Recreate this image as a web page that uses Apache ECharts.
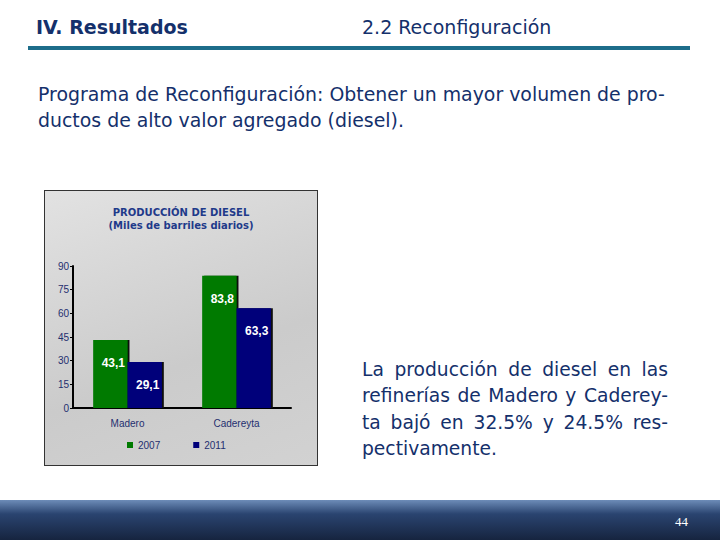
<!DOCTYPE html>
<html>
<head>
<meta charset="utf-8">
<script src="https://cdn.jsdelivr.net/npm/echarts@6/dist/echarts.min.js"></script>
<style>
  body { margin: 0; width: 720px; height: 540px; position: relative; background: #fff; overflow: hidden;
         font-family: "DejaVu Sans", sans-serif; color: #14306b; }
  .abs { position: absolute; white-space: nowrap; }
  #rule { position: absolute; left: 28px; top: 46px; width: 662px; height: 4px; background: #1d6d8a; }
  #footer { position: absolute; left: 0; top: 500px; width: 720px; height: 40px;
            background: linear-gradient(#6d8cb8, #2a4470 35%, #16243f); }
  #chart1 { position: absolute; left: 44px; top: 190px; width: 272px; height: 274px;
            border: 1px solid #333; background: linear-gradient(160deg, #e2e2e2, #cbcbcb 60%, #d2d2d2); }
  .just { width: 306px; text-align: justify; text-align-last: justify; }
</style>
</head>
<body>
<div class="abs" style="left:36px; top:16px; font-size:19px; font-weight:bold;">IV. Resultados</div>
<div class="abs" style="left:362px; top:16px; font-size:19px;">2.2 Reconfiguración</div>
<div id="rule"></div>
<div class="abs" style="left:38px; top:81px; font-size:18.9px; line-height:26px;">Programa de Reconfiguración: Obtener un mayor volumen de pro-<br>ductos de alto valor agregado (diesel).</div>

<div class="abs" style="left:362px; top:357px; font-size:18.7px; line-height:26.3px;">
  <div class="just">La producción de diesel en las</div>
  <div class="just">refinerías de Madero y Caderey-</div>
  <div class="just">ta bajó en 32.5% y 24.5% res-</div>
  <div>pectivamente.</div>
</div>

<div id="chart1"></div>
<div id="footer"></div>
<div class="abs" style="left:675px; top:514px; font-size:13px; color:#fff; font-family:'Liberation Serif', serif;">44</div>

<script>
// datos
const refinerias = ['Madero', 'Cadereyta'];
const anios = ['2007', '2011'];
const valores2007 = [43.1, 83.8];
const valores2011 = [29.1, 63.3];
const ticksY = { min: 0, max: 90, interval: 15 };

const coma = p => String(p.value).replace('.', ',');

const serie = (nombre, datos, color) => ({
    name: nombre,
    type: 'bar',
    data: datos,
    barGap: '0%',
    barCategoryGap: '37%',
    itemStyle: {
        color: color,
        shadowColor: '#111',
        shadowOffsetX: 2,
        shadowBlur: 0
    },
    label: {
        show: true,
        position: 'insideTop',
        distance: 17,
        offset: [3, 0],
        color: '#fff',
        fontWeight: 'bold',
        fontSize: 12,
        fontFamily: 'Liberation Sans, Arial, sans-serif',
        formatter: coma
    }
});

const initCharts = () => {
    const chart1 = echarts.init(document.getElementById('chart1'), null, { renderer: 'svg' });
    const txt = { color: '#1f2f6f', fontSize: 10, fontFamily: 'Liberation Sans, Arial, sans-serif' };
    chart1.setOption({
        animation: false,
        title: {
            text: 'PRODUCCIÓN DE DIESEL\n(Miles de barriles diarios)',
            left: 'center',
            top: 10,
            textStyle: { color: '#1f3a8a', fontSize: 10, fontWeight: 'bold', lineHeight: 13,
                         fontFamily: 'DejaVu Sans, sans-serif' }
        },
        legend: {
            data: anios,
            left: 77,
            top: 244,
            icon: 'rect',
            itemWidth: 6,
            itemHeight: 6,
            itemGap: 33,
            textStyle: txt
        },
        grid: { left: 28, top: 75, width: 218, height: 142 },
        xAxis: {
            type: 'category',
            data: refinerias,
            axisLine: { lineStyle: { color: '#000', width: 2 } },
            axisTick: { lineStyle: { color: '#000', width: 2 }, length: 4 },
            axisLabel: Object.assign({ margin: 10 }, txt)
        },
        yAxis: {
            type: 'value',
            min: ticksY.min,
            max: ticksY.max,
            interval: ticksY.interval,
            splitLine: { show: false },
            axisLine: { show: true, lineStyle: { color: '#000', width: 2 } },
            axisTick: { show: true, lineStyle: { color: '#000' }, length: 3 },
            axisLabel: Object.assign({ margin: 4 }, txt)
        },
        series: [
            serie(anios[0], valores2007, '#007a00'),
            serie(anios[1], valores2011, '#00007a')
        ]
    });
};

window.addEventListener('load', initCharts);
</script>
</body>
</html>
